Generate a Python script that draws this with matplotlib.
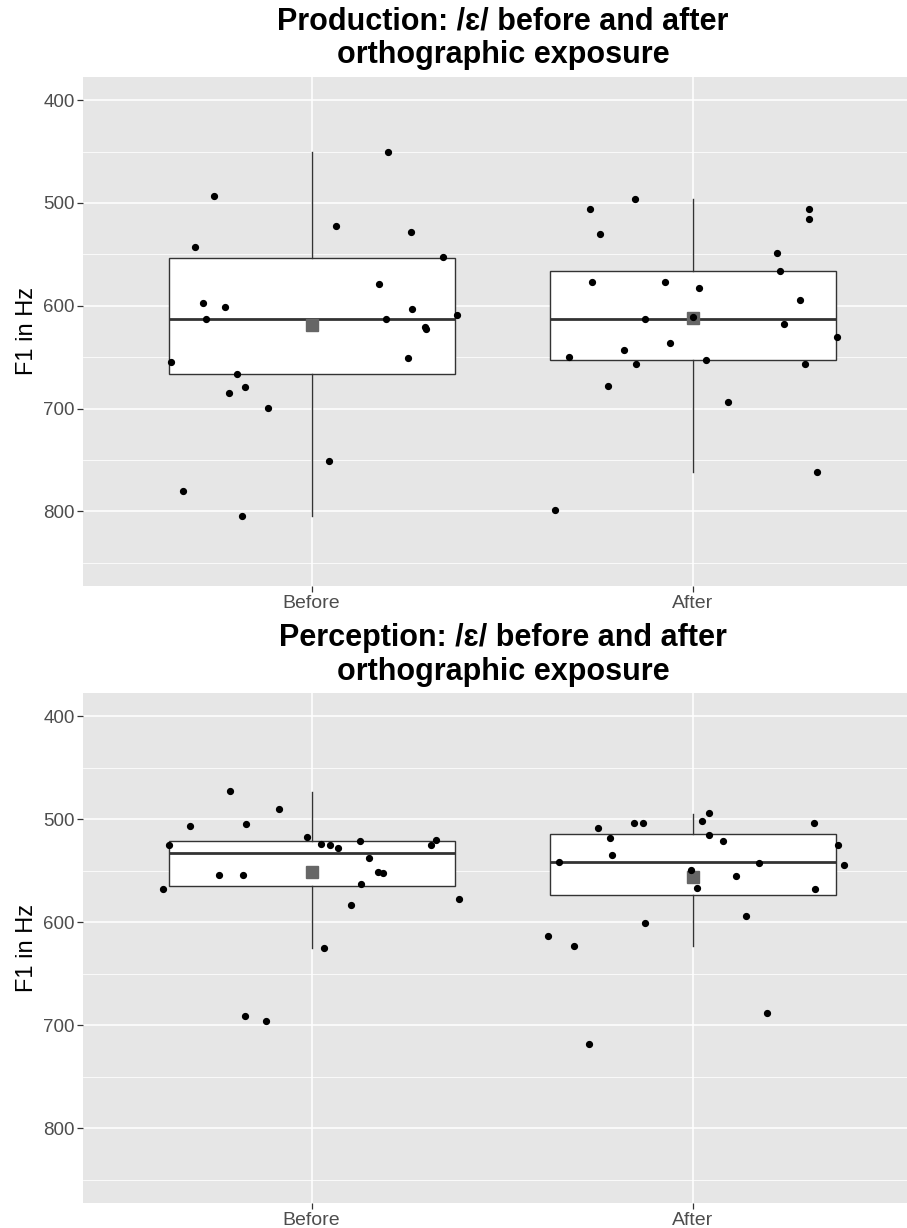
import matplotlib
matplotlib.use("Agg")
import matplotlib.pyplot as plt
from matplotlib.ticker import MultipleLocator

plt.rcParams["font.family"] = ["Liberation Sans", "DejaVu Sans"]

CATEGORIES = ["Before", "After"]
Y_TICKS = [400, 500, 600, 700, 800]

# Production panel: jittered x positions and F1 values
prod_before_x = [1.20, 0.743, 0.695, 1.063, 1.261, 1.345, 1.177, 0.715, 0.773, 0.723, 1.196, 1.264,
                 1.382, 1.298, 1.301, 0.631, 1.254, 0.805, 0.784, 0.826, 0.887, 1.046, 0.662, 0.817]
prod_before_f1 = [450, 493, 543, 522, 528, 553, 579, 597, 601, 613, 613, 603,
                  609, 621, 623, 655, 651, 666, 685, 679, 699, 751, 780, 804]
prod_after_x = [1.848, 1.730, 1.755, 2.303, 2.305, 2.219, 2.229, 1.736, 1.927, 2.015, 2.281, 1.873, 2.0,
                2.238, 2.377, 1.940, 1.818, 1.675, 1.851, 2.033, 2.294, 1.776, 2.092, 2.324, 1.639]
prod_after_f1 = [496, 506, 530, 506, 516, 549, 566, 577, 577, 583, 594, 613, 611,
                 618, 630, 636, 643, 650, 657, 653, 657, 678, 694, 762, 799]

# Perception panel
perc_before_x = [0.786, 0.914, 0.681, 0.829, 0.988, 0.626, 1.025, 1.047, 1.070, 1.126, 1.327, 1.314,
                 1.150, 0.756, 0.821, 1.175, 1.186, 0.611, 1.130, 1.387, 1.103, 1.033, 0.826, 0.881]
perc_before_f1 = [473, 490, 507, 505, 517, 525, 524, 525, 528, 521, 520, 525,
                  538, 554, 554, 551, 552, 568, 563, 577, 583, 625, 691, 696]
perc_after_x = [2.043, 2.024, 1.844, 1.870, 2.317, 1.750, 2.042, 1.783, 2.078, 2.380, 1.787, 1.648,
                2.172, 2.396, 1.994, 2.113, 2.011, 2.320, 2.140, 1.874, 1.621, 1.688, 2.194, 1.726]
perc_after_f1 = [494, 502, 504, 504, 504, 509, 515, 518, 521, 525, 535, 542,
                 543, 544, 549, 555, 567, 568, 594, 601, 613, 623, 688, 718]

# box summaries: (whisker low, q1, median, q3, whisker high, mean)
prod_box = [(450, 554, 613, 666, 804, 619), (496, 566, 613, 653, 762, 612)]
perc_box = [(474, 521, 533, 565, 625, 551), (495, 514, 542, 574, 623, 556)]

BG = "#E6E6E6"


def draw_panel(ax, box, points, title_y, title):
    ax.set_facecolor(BG)
    for s in ax.spines.values():
        s.set_visible(False)

    stats = []
    for lo, q1, med, q3, hi, mean in box:
        stats.append(dict(whislo=lo, q1=q1, med=med, q3=q3, whishi=hi, mean=mean, fliers=[]))
    ax.bxp(stats, positions=[1, 2], widths=0.75, showcaps=False, showfliers=False,
           showmeans=True, patch_artist=True,
           boxprops=dict(facecolor="white", edgecolor="#333333", linewidth=1.0),
           whiskerprops=dict(color="#333333", linewidth=1.0),
           medianprops=dict(color="#333333", linewidth=2.0),
           meanprops=dict(marker="s", markersize=8, markerfacecolor="#666666",
                          markeredgecolor="#666666"),
           zorder=3)

    for xs, ys in points:
        ax.plot(xs, ys, "o", color="black", markersize=4.2, zorder=5)

    ax.set_xlim(0.4, 2.561)
    ax.set_ylim(872.5, 377.5)
    ax.set_xticks([1, 2])
    ax.set_xticklabels(CATEGORIES)
    ax.set_yticks(Y_TICKS)
    ax.yaxis.set_minor_locator(MultipleLocator(50))
    ax.grid(which="major", color="white", linewidth=1.1)
    ax.grid(which="minor", axis="y", color="white", linewidth=0.55)
    ax.set_axisbelow(True)
    ax.tick_params(axis="both", which="major", length=4.3, width=0.9, color="#333333",
                   labelcolor="#4D4D4D")
    ax.tick_params(axis="y", which="major", labelsize=13.5, pad=1.5)
    ax.tick_params(axis="x", which="major", labelsize=14, pad=2)
    ax.tick_params(which="minor", length=0)
    ax.set_ylabel("F1 in Hz", fontsize=17, labelpad=4)

    # va="baseline" on a two-line text anchors the second line
    fig.text(0.5546, title_y, title, ha="center", va="baseline", fontsize=22,
             fontweight="bold", linespacing=1.18)


fig = plt.figure(figsize=(9.07, 12.28), dpi=100)
ax1 = fig.add_axes([0.0912, 0.5228, 0.9088, 0.4145])
ax2 = fig.add_axes([0.0912, 0.0204, 0.9088, 0.4153])

draw_panel(ax1, prod_box,
           [(prod_before_x, prod_before_f1), (prod_after_x, prod_after_f1)],
           0.9485, "Production: /ɛ/ before and after\northographic exposure")
draw_panel(ax2, perc_box,
           [(perc_before_x, perc_before_f1), (perc_after_x, perc_after_f1)],
           0.4463, "Perception: /ɛ/ before and after\northographic exposure")

fig.savefig("out.png", dpi=100)
